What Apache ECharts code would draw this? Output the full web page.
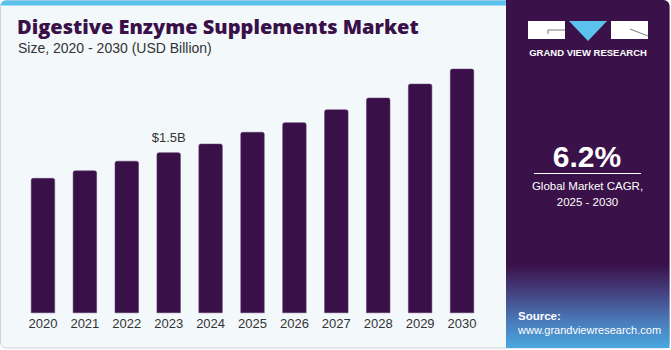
<!DOCTYPE html>
<html>
<head>
<meta charset="utf-8">
<script src="https://cdn.jsdelivr.net/npm/echarts@6/dist/echarts.min.js"></script>
<style>
html,body{margin:0;padding:0;background:#ffffff;}
#chart{width:671px;height:350px;}
</style>
</head>
<body>
<div id="chart"></div>
<script>
// ---- data ----
const years = ['2020','2021','2022','2023','2024','2025','2026','2027','2028','2029','2030'];
const marketSize = [1.26, 1.33, 1.42, 1.50, 1.58, 1.69, 1.78, 1.90, 2.01, 2.14, 2.28];
const labeledYear = '2023';
const labeledText = '$1.5B';
const titleText = 'Digestive Enzyme Supplements Market';
const subtitleText = 'Size, 2020 - 2030 (USD Billion)';
const cagrValue = '6.2%';
const cagrLine1 = 'Global Market CAGR,';
const cagrLine2 = '2025 - 2030';
const brandText = 'GRAND VIEW RESEARCH';
const sourceLabel = 'Source:';
const sourceUrl = 'www.grandviewresearch.com';

const purple = '#3a1048';
const font = '"Liberation Sans", Arial, sans-serif';

const seriesData = marketSize.map((v, i) => {
  if (years[i] === labeledYear) {
    return {
      value: v,
      label: {
        show: true, position: 'top', distance: 8,
        formatter: labeledText, color: '#333', fontSize: 13, fontFamily: font
      }
    };
  }
  return v;
});

const chart = echarts.init(document.getElementById('chart'), null, {renderer: 'svg'});
chart.setOption({
  animation: false,
  backgroundColor: 'transparent',
  grid: {left: 22, right: 188, top: 56, bottom: 37},
  xAxis: {
    type: 'category',
    data: years,
    axisLine: {show: false},
    axisTick: {show: false},
    axisLabel: {color: '#333', fontSize: 13, fontFamily: font, margin: 4}
  },
  yAxis: {
    type: 'value', min: 0, max: 2.4,
    show: false,
    splitLine: {show: false}
  },
  series: [{
    type: 'bar',
    data: seriesData,
    barWidth: 24,
    itemStyle: {color: purple, borderRadius: [2, 2, 0, 0], borderColor: '#5a3468', borderWidth: 0.5},
    z: 5
  }],
  graphic: [
    // card background
    {type: 'rect', z: -10, shape: {x: 0.5, y: 0.5, width: 669, height: 347.5, r: 6},
      style: {fill: '#f3f8fb', stroke: '#cfd3d7', lineWidth: 1}},
    // top strip
    {type: 'rect', z: -9, shape: {x: 0.5, y: 0.5, width: 506, height: 5, r: [5, 0, 0, 0]},
      style: {fill: '#5bc2ee'}},
    // right panel
    {type: 'rect', z: -8, shape: {x: 506, y: 0, width: 163.5, height: 348, r: [0, 6, 0, 0]},
      style: {fill: {type: 'linear', x: 0, y: 0, x2: 0, y2: 1, colorStops: [
        {offset: 0, color: '#3a1249'},
        {offset: 0.76, color: '#3a1249'},
        {offset: 0.84, color: '#45407f'},
        {offset: 0.92, color: '#4a78b8'},
        {offset: 1, color: '#4aa8e0'}
      ]}}},
    // title texts
    {type: 'text', left: 17, top: 16, z: 10,
      style: {text: titleText, fill: purple, fontSize: 20, fontWeight: 800, fontFamily: '"Open Sans", "Liberation Sans", sans-serif'}},
    {type: 'text', left: 18, top: 41, z: 10,
      style: {text: subtitleText, fill: '#333', fontSize: 14, fontFamily: font}},
    // logo
    {type: 'rect', z: 10, shape: {x: 528, y: 21, width: 37, height: 18}, style: {fill: '#ffffff'}},
    {type: 'polyline', z: 11, shape: {points: [[548, 34], [548, 30], [565, 30]]}, style: {stroke: '#555', lineWidth: 0.8, fill: 'none'}},
    {type: 'polygon', z: 10, shape: {points: [[569, 21], [607, 21], [588, 41]]}, style: {fill: '#5bc2ee'}},
    {type: 'rect', z: 10, shape: {x: 611, y: 21, width: 37, height: 18}, style: {fill: '#ffffff'}},
    {type: 'line', z: 11, shape: {x1: 630, y1: 29, x2: 648, y2: 36}, style: {stroke: '#555', lineWidth: 0.8}},
    {type: 'text', x: 588, y: 52, z: 10,
      style: {text: brandText, fill: '#ffffff', fontSize: 9.5, fontWeight: 'bold', fontFamily: font, align: 'center', verticalAlign: 'middle'}},
    // CAGR
    {type: 'text', x: 587, y: 156, z: 10,
      style: {text: cagrValue, fill: '#ffffff', fontSize: 30, fontWeight: 'bold', fontFamily: font, align: 'center', verticalAlign: 'middle'}},
    {type: 'line', z: 10, shape: {x1: 534, y1: 173.5, x2: 641, y2: 173.5}, style: {stroke: '#ffffff', lineWidth: 1}},
    {type: 'text', x: 587.5, y: 185.5, z: 10,
      style: {text: cagrLine1, fill: '#ffffff', fontSize: 11.5, fontFamily: font, align: 'center', verticalAlign: 'middle'}},
    {type: 'text', x: 587.5, y: 201.5, z: 10,
      style: {text: cagrLine2, fill: '#ffffff', fontSize: 11.5, fontFamily: font, align: 'center', verticalAlign: 'middle'}},
    // source
    {type: 'text', x: 518, y: 316, z: 10,
      style: {text: sourceLabel, fill: '#ffffff', fontSize: 11.5, fontWeight: 'bold', fontFamily: font, verticalAlign: 'middle'}},
    {type: 'text', x: 518, y: 329.5, z: 10,
      style: {text: sourceUrl, fill: '#ffffff', fontSize: 11, fontFamily: font, verticalAlign: 'middle'}}
  ]
});
</script>
</body>
</html>
